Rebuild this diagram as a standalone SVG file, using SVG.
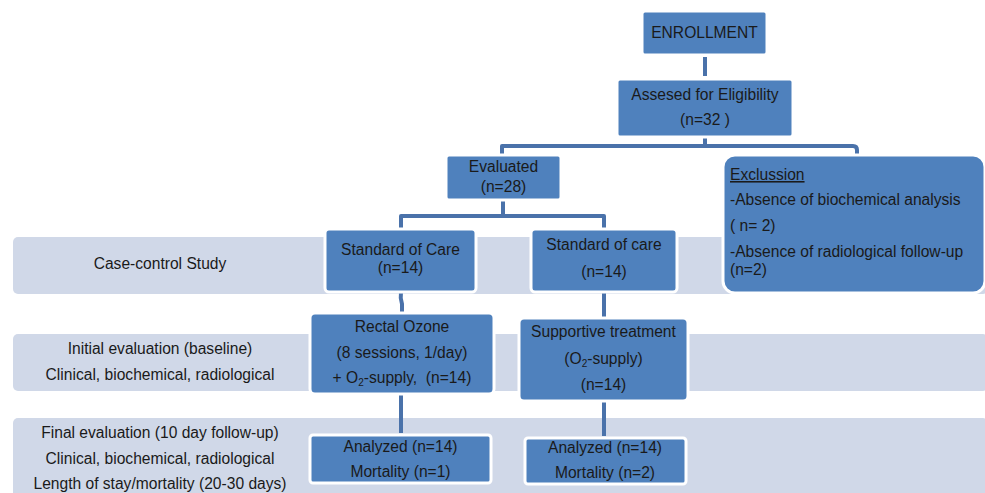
<svg xmlns="http://www.w3.org/2000/svg" width="985" height="493" viewBox="0 0 985 493">
<style>
.band{fill:#D0D8E8}
.box{fill:#4F81BD;stroke:#fff;stroke-width:3}
.t{font-family:"Liberation Sans",Arial,sans-serif;font-size:15.6px;fill:#1a1a1a;text-anchor:middle}
.tl{font-family:"Liberation Sans",Arial,sans-serif;font-size:15.6px;fill:#1a1a1a}
.sub{font-size:10px}
.c{fill:none;stroke:#4A72AA;stroke-width:4;stroke-linejoin:round}
</style>
<rect width="985" height="493" fill="#fff"/>
<g id="bands">
<rect class="band" x="13" y="237" width="975" height="57" rx="5"/>
<rect class="band" x="13" y="334" width="975" height="57" rx="5"/>
<rect class="band" x="13" y="418" width="975" height="85" rx="5"/>
</g>
<g id="labels">
<text class="t" x="160" y="269">Case-control Study</text>
<text class="t" x="160" y="354">Initial evaluation (baseline)</text>
<text class="t" x="160" y="380">Clinical, biochemical, radiological</text>
<text class="t" x="160" y="438">Final evaluation (10 day follow-up)</text>
<text class="t" x="160" y="464">Clinical, biochemical, radiological</text>
<text class="t" x="160" y="489">Length of stay/mortality (20-30 days)</text>
</g>
<g id="connectors">
<path class="c" d="M705 57V76"/>
<path class="c" d="M705 137V146M502 155V146H853Q857 146 857 150V157"/>
<path class="c" d="M503 200V216M401 229V216H604V229"/>
<path class="c" d="M401 292Q400 298 402 304V313"/>
<path class="c" d="M604 292V318"/>
<path class="c" d="M401 394V433"/>
<path class="c" d="M604 401V436"/>
</g>
<g id="enrollment">
<rect class="box" x="642" y="11" width="125" height="44" rx="3"/>
<text class="t" x="704.5" y="38">ENROLLMENT</text>
</g>
<g id="assessed">
<rect class="box" x="617" y="79" width="176" height="58" rx="3"/>
<text class="t" x="705" y="100">Assesed for Eligibility</text>
<text class="t" x="705" y="125">(n=32 )</text>
</g>
<g id="evaluated">
<rect class="box" x="446" y="155" width="115" height="45" rx="3"/>
<text class="t" x="503.5" y="172">Evaluated</text>
<text class="t" x="503.5" y="192">(n=28)</text>
</g>
<g id="exclusion">
<rect class="box" x="723" y="155" width="262" height="138" rx="12"/>
<text class="tl" x="730" y="180" text-decoration="underline">Exclussion</text>
<text class="tl" x="730" y="205">-Absence of biochemical analysis</text>
<text class="tl" x="730" y="231">( n= 2)</text>
<text class="tl" x="730" y="257">-Absence of radiological follow-up</text>
<text class="tl" x="730" y="275">(n=2)</text>
</g>
<g id="soc-left">
<rect class="box" x="325" y="229" width="151" height="63" rx="4"/>
<text class="t" x="400.5" y="255">Standard of Care</text>
<text class="t" x="400.5" y="273">(n=14)</text>
</g>
<g id="soc-right">
<rect class="box" x="531" y="229" width="146" height="63" rx="4"/>
<text class="t" x="604" y="250">Standard of care</text>
<text class="t" x="604" y="277">(n=14)</text>
</g>
<g id="rectal-ozone">
<rect class="box" x="310" y="313" width="184" height="81" rx="5"/>
<text class="t" x="402" y="332">Rectal Ozone</text>
<text class="t" x="402" y="358">(8 sessions, 1/day)</text>
<text class="t" x="402" y="383" style="white-space:pre">+ O<tspan class="sub" dy="3">2</tspan><tspan dy="-3">-supply,  (n=14)</tspan></text>
</g>
<g id="supportive">
<rect class="box" x="519" y="318" width="169" height="83" rx="5"/>
<text class="t" x="603.5" y="337">Supportive treatment</text>
<text class="t" x="603.5" y="364">(O<tspan class="sub" dy="3">2</tspan><tspan dy="-3">-supply)</tspan></text>
<text class="t" x="603.5" y="390">(n=14)</text>
</g>
<g id="analyzed-left">
<rect class="box" x="310" y="435" width="181" height="48" rx="3"/>
<text class="t" x="400.5" y="452">Analyzed (n=14)</text>
<text class="t" x="400.5" y="477">Mortality (n=1)</text>
</g>
<g id="analyzed-right">
<rect class="box" x="525" y="438" width="161" height="46" rx="3"/>
<text class="t" x="605" y="453">Analyzed (n=14)</text>
<text class="t" x="605" y="478">Mortality (n=2)</text>
</g>
</svg>
